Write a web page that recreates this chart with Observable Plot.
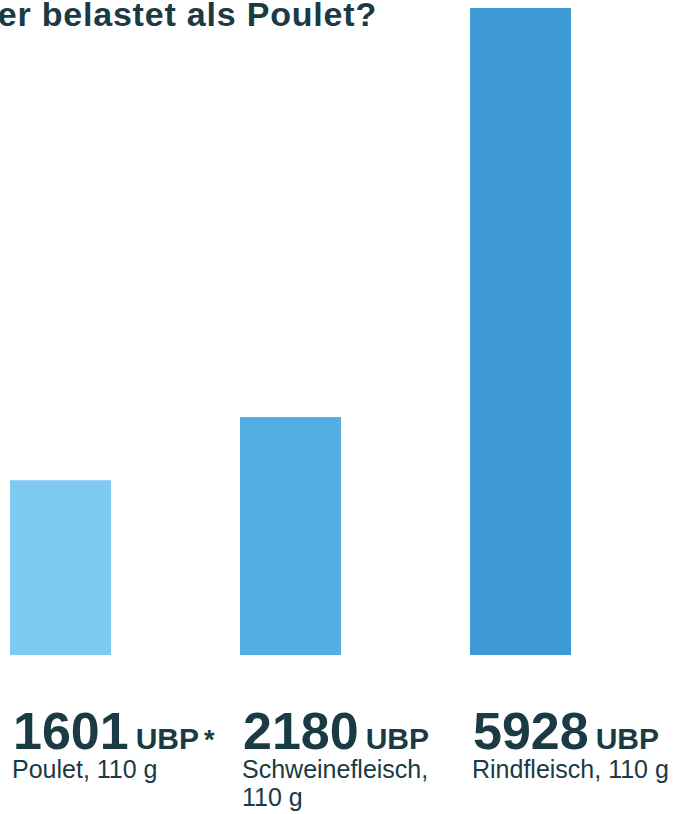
<!DOCTYPE html>
<html><head><meta charset="utf-8">
<script src="https://cdn.jsdelivr.net/npm/d3@7"></script>
<script src="https://cdn.jsdelivr.net/npm/@observablehq/plot@0.6"></script>
<style>
html,body{margin:0;padding:0;background:#fff;overflow:hidden;}
#wrap{position:relative;width:674px;height:814px;overflow:hidden;}
#title{position:absolute;right:297px;top:-3px;white-space:nowrap;font-family:"Liberation Sans",Arial,sans-serif;font-weight:bold;font-size:34px;letter-spacing:0.8px;line-height:1;color:#1a3a44;}
#chart{position:absolute;left:0;top:0;}
</style></head><body>
<div id="wrap"><div id="chart"></div><div id="title"></div></div>
<script>
const titleText = "er belastet als Poulet?";
const categories = ["Poulet", "Schweinefleisch", "Rindfleisch"];
const values = [1601, 2180, 5928];
const unit = "UBP";
const footnotes = ["*", "", ""];
const labels = ["Poulet, 110 g", "Schweinefleisch,\n110 g", "Rindfleisch, 110 g"];
const colors = ["#7dcbf0", "#53aee1", "#3d9ad4"];

const ink = "#1a3a44";
const data = categories.map((c, i) => ({category: c, value: values[i], label: labels[i], note: footnotes[i]}));

document.getElementById("title").textContent = titleText;

const plot = Plot.plot({
  width: 674,
  height: 814,
  marginTop: 8,
  marginBottom: 159,
  marginLeft: 10,
  marginRight: 102,
  style: {fontFamily: "'Liberation Sans', Arial, sans-serif", color: ink, background: "#fff", overflow: "visible"},
  x: {domain: categories, paddingInner: 0.56, paddingOuter: 0, axis: null},
  y: {domain: [0, d3.max(values)], axis: null},
  color: {domain: categories, range: colors},
  marks: [
    Plot.barY(data, {x: "category", y: "value", fill: "category"}),
    Plot.text(data, {x: "category", y: 0, text: d => String(d.value), textAnchor: "start", lineAnchor: "bottom",
      dx: -48, dy: 93, fontSize: 52, fontWeight: "bold", fill: ink}),
    Plot.text(data, {x: "category", y: 0, text: "label", textAnchor: "start", lineAnchor: "top", lineHeight: 1.12,
      dx: -49, dy: 103, fontSize: 25, fill: ink})
  ]
});

// append unit and footnote marker as tspans after each value
const textGroups = plot.querySelectorAll('g[aria-label="text"]');
textGroups[0].querySelectorAll("text").forEach((t, i) => {
  const u = document.createElementNS("http://www.w3.org/2000/svg", "tspan");
  u.setAttribute("dx", "7");
  u.setAttribute("font-size", "30");
  u.textContent = unit;
  t.appendChild(u);
  if (data[i].note) {
    const n = document.createElementNS("http://www.w3.org/2000/svg", "tspan");
    n.setAttribute("dx", "5");
    n.setAttribute("font-size", "27");
    n.textContent = data[i].note;
    t.appendChild(n);
  }
});

document.getElementById("chart").appendChild(plot);
</script>
</body></html>
